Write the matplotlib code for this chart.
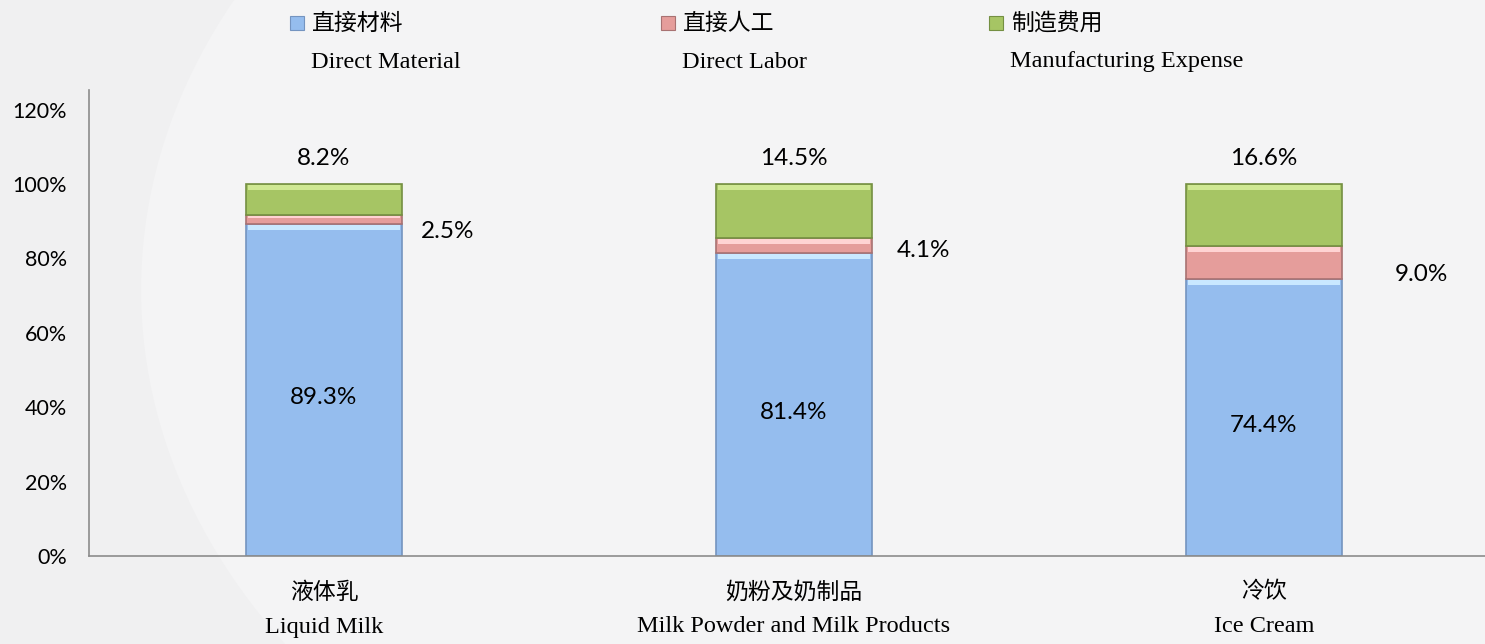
import numpy as np
import matplotlib.pyplot as plt
from matplotlib.patches import Rectangle, Ellipse
from matplotlib.transforms import blended_transform_factory

# data
cats_cn = ['液体乳', '奶粉及奶制品', '冷饮']
cats_en = ['Liquid Milk', 'Milk Powder and Milk Products', 'Ice Cream']
series_cn = ['直接材料', '直接人工', '制造费用']
series_en = ['Direct Material', 'Direct Labor', 'Manufacturing Expense']
material = [89.3, 81.4, 74.4]
labor = [2.5, 4.1, 9.0]
expense = [8.2, 14.5, 16.6]

colors = ['#95bdee', '#e59d9b', '#a6c564']
edges = ['#7494c0', '#a87272', '#748f42']
tops = ['#c9e8ff', '#ffd3d3', '#cfe893']

cjk = ['Noto Sans CJK SC', 'DejaVu Sans']
sans = ['Lato', 'DejaVu Sans']
serif = ['Liberation Serif', 'DejaVu Serif']

W, H = 1485, 644
fig = plt.figure(figsize=(W / 100, H / 100), dpi=100)
fig.patch.set_facecolor('#f0f0f1')
# faint light swirl behind the chart
fig.add_artist(Ellipse((0.62, 0.55), 1.05, 1.9, transform=fig.transFigure,
                       facecolor='#f4f4f5', edgecolor='none', zorder=0))

ax = fig.add_axes([89 / W, (H - 556) / H, (1499 - 89) / W, (556 - 90) / H])
ax.patch.set_alpha(0)

x = np.arange(len(cats_cn))
w = 0.33
bottoms = np.zeros(len(x))
for vals, fc, ec, tc in zip([material, labor, expense], colors, edges, tops):
    vals = np.array(vals)
    ax.bar(x, vals, w, bottom=bottoms, color=fc, edgecolor=ec, linewidth=1.2, zorder=2)
    # bevel highlight on top of each segment
    hl = np.minimum(vals * 0.3, 1.3)
    ax.bar(x, hl, w * 0.975, bottom=bottoms + vals - hl - 0.3, color=tc, linewidth=0, zorder=3)
    bottoms += vals

# data labels
for i in range(len(x)):
    ax.text(x[i], material[i] / 2 - 2, f'{material[i]:.1f}%', ha='center', va='center',
            fontsize=17.5, family=sans, zorder=4)
    ax.text(x[i], 107, f'{expense[i]:.1f}%', ha='center', va='center',
            fontsize=17.5, family=sans, zorder=4)
lab_dx = [0.262, 0.275, 0.334]
lab_y = [87.3, 82.2, 75.7]
for i in range(len(x)):
    ax.text(x[i] + lab_dx[i], lab_y[i], f'{labor[i]:.1f}%', ha='center', va='center',
            fontsize=17.5, family=sans, zorder=4)

ax.set_xlim(-0.5, 2.5)
ax.set_ylim(0, 125.3)
ax.set_yticks(np.arange(0, 121, 20))
ax.set_yticklabels([f'{v}%' for v in range(0, 121, 20)], family=sans, fontsize=15.5)
ax.tick_params(axis='y', length=0, pad=16)
ax.set_xticks([])
for s in ['top', 'right']:
    ax.spines[s].set_visible(False)
for s in ['left', 'bottom']:
    ax.spines[s].set_color('#8c8c8c')
    ax.spines[s].set_linewidth(1.2)

# category labels
tr = blended_transform_factory(ax.transData, fig.transFigure)
for i in range(len(x)):
    ax.text(x[i], 1 - 592 / H, cats_cn[i], transform=tr, ha='center', va='center',
            fontsize=16.5, family=cjk)
    ax.text(x[i], 1 - 627 / H, cats_en[i], transform=tr, ha='center', va='center',
            fontsize=17.5, family=serif)

# legend
leg_x = [297, 668, 996]
for i in range(3):
    fig.add_artist(Rectangle(((leg_x[i] - 7) / W, 1 - 30 / H), 14 / W, 14 / H,
                             transform=fig.transFigure, facecolor=colors[i],
                             edgecolor=edges[i], linewidth=0.8))
    fig.text((leg_x[i] + 15) / W, 1 - 23 / H, series_cn[i], ha='left', va='center',
             fontsize=16.5, family=cjk)
    fig.text((leg_x[i] + 14) / W, 1 - 62 / H, series_en[i], ha='left', va='center',
             fontsize=17.5, family=serif)

fig.savefig('out.png', dpi=100, facecolor=fig.get_facecolor())
